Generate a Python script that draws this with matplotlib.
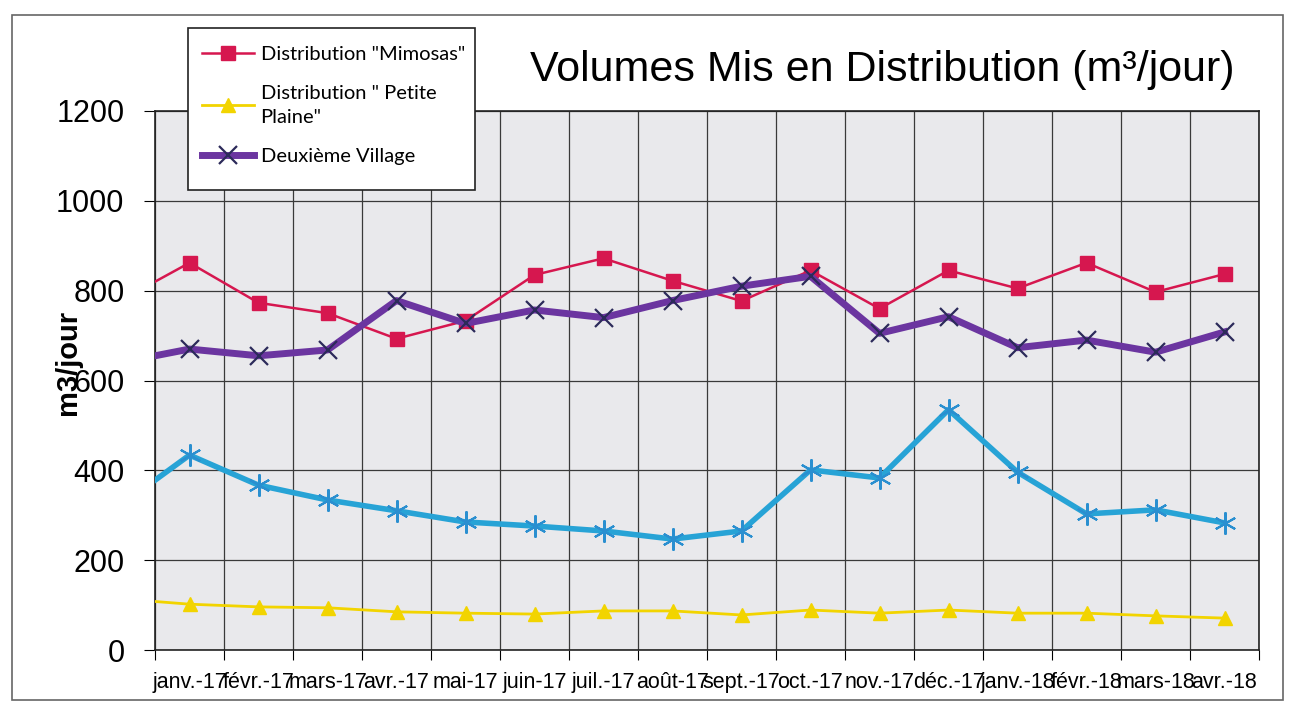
import numpy as np
from matplotlib import pyplot as plt
from matplotlib.patches import Rectangle

plt.rcParams['font.family'] = ['Liberation Sans', 'DejaVu Sans']

# Months (first one, déc.-16, sits left of the axis and is clipped)
months = ['déc.-16', 'janv.-17', 'févr.-17', 'mars-17', 'avr.-17', 'mai-17', 'juin-17',
          'juil.-17', 'août-17', 'sept.-17', 'oct.-17', 'nov.-17', 'déc.-17',
          'janv.-18', 'févr.-18', 'mars-18', 'avr.-18']

mimosas = [778, 862, 773, 750, 693, 733, 835, 872, 822, 777, 845, 760, 845, 805, 862, 797, 837]
petite_plaine = [114, 102, 96, 94, 85, 82, 80, 87, 87, 78, 89, 82, 89, 82, 82, 76, 71]
deuxieme = [640, 670, 655, 668, 778, 727, 757, 740, 778, 810, 832, 705, 742, 673, 690, 663, 708]
autre = [322, 434, 367, 334, 310, 285, 276, 265, 247, 265, 401, 383, 535, 396, 303, 312, 283]

labels = ['Distribution "Mimosas"', 'Distribution " Petite\nPlaine"', 'Deuxième Village']

W, H = 1293, 709
fig = plt.figure(figsize=(W / 100, H / 100), dpi=100)
ax = fig.add_axes([155 / W, 1 - 650 / H, (1259 - 155) / W, (650 - 111) / H])
ax.set_facecolor('#e9e9ec')

x = np.arange(len(months)) - 1

ax.plot(x, mimosas, color='#d6174f', lw=1.8, marker='s', ms=10, label=labels[0], zorder=3)
ax.plot(x, petite_plaine, color='#f2d400', lw=2, marker='^', ms=10, label=labels[1], zorder=3)
ax.plot(x, deuxieme, color='#6b35a0', lw=5, marker='x', ms=13, mec='#2c2a5a', mew=1.6,
        label=labels[2], zorder=4)
ax.plot(x, autre, color='#27a3d6', lw=4, marker=(6, 2, 0), ms=16, mec='#2a8fd0', mew=1.5,
        label='_nolegend_', zorder=4)

ax.set_xlim(-0.5, len(months) - 1.5)
ax.set_ylim(0, 1200)
ax.set_yticks(np.arange(0, 1201, 200))
ax.tick_params(axis='y', labelsize=22, length=8, pad=14, direction='out')

ax.set_xticks(np.arange(-0.5, len(months) - 1, 1.0))
ax.set_xticklabels([])
ax.set_xticks(np.arange(0, len(months) - 1), minor=True)
ax.set_xticklabels(months[1:], minor=True)
ax.tick_params(axis='x', which='major', length=7, direction='out')
ax.tick_params(axis='x', which='minor', length=0, labelsize=15.5, pad=16)

ax.grid(True, which='major', color='#3a3a3a', lw=0.9)
ax.set_axisbelow(True)
for s in ax.spines.values():
    s.set_color('#222222')
    s.set_linewidth(1.2)

fig.text(68 / W, 1 - 362 / H, 'm3/jour', rotation=90, fontsize=21, fontweight='bold',
         ha='center', va='center')
fig.text(882 / W, 1 - 70 / H, 'Volumes Mis en Distribution (m³/jour)', fontsize=31,
         ha='center', va='center')

# legend box
fig.patches.append(Rectangle((188 / W, 1 - 190 / H), (475 - 188) / W, (190 - 28) / H,
                             transform=fig.transFigure, facecolor='white',
                             edgecolor='#222222', lw=1.2, zorder=5))
leg = fig.legend(loc='upper left', bbox_to_anchor=(184 / W, 1 - 28 / H), frameon=False,
                 prop={'family': 'Lato', 'size': 14.5}, handlelength=2.6,
                 handletextpad=0.3, labelspacing=1.1)
for t in leg.get_texts():
    t.set_linespacing(1.45)
leg.set_zorder(6)

# outer border of the scanned chart
fig.patches.append(Rectangle((12 / W, 1 - 700 / H), (1283 - 12) / W, (700 - 15) / H,
                             transform=fig.transFigure, fill=False,
                             edgecolor='#666666', lw=1.2, zorder=0))

fig.savefig('out.png', dpi=100)
